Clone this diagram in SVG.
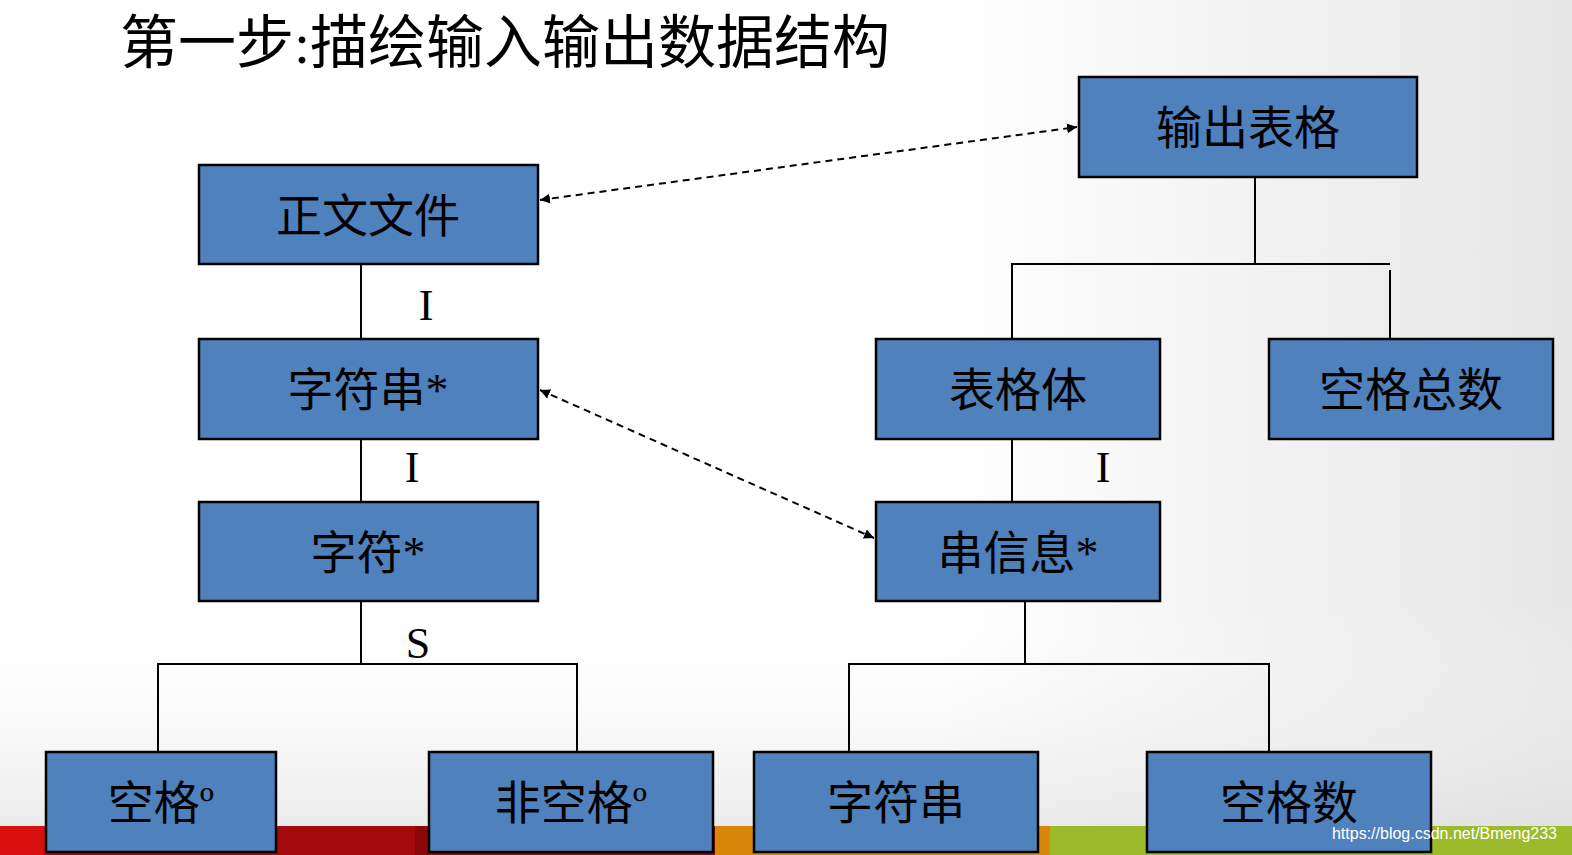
<svg xmlns="http://www.w3.org/2000/svg" width="1572" height="855" viewBox="0 0 1572 855">
<style>
.box{fill:#4f81bd;stroke:#000;stroke-width:2.5}
.t{font-family:"Liberation Serif","Noto Sans CJK SC",serif;font-size:46px;text-anchor:middle;fill:#000}
.l{font-family:"Liberation Serif",serif;font-size:44px;text-anchor:middle;fill:#000}
.c{stroke:#000;stroke-width:2;fill:none}
.d{stroke:#000;stroke-width:2;fill:none;stroke-dasharray:7,5}
</style>
<defs>
<linearGradient id="bg" x1="0" y1="0" x2="1" y2="0">
<stop offset="0.6" stop-color="#fff"/><stop offset="1" stop-color="#e6e6e6"/>
</linearGradient>
<linearGradient id="bg2" x1="0" y1="0" x2="0" y2="1">
<stop offset="0" stop-color="#fff" stop-opacity="0"/><stop offset="1" stop-color="#ddd" stop-opacity="0.6"/>
</linearGradient>
<marker id="a" viewBox="0 0 10 10" refX="10" refY="5" markerWidth="5" markerHeight="5" orient="auto-start-reverse"><path d="M0,0L10,5L0,10z" fill="#000"/></marker>
</defs>
<rect width="1572" height="855" fill="url(#bg)"/>
<rect y="600" width="1572" height="230" fill="url(#bg2)"/>
<rect x="0" y="826" width="45" height="29" fill="#d81010"/>
<rect x="45" y="826" width="370" height="29" fill="#a50a0a"/>
<rect x="415" y="826" width="300" height="29" fill="#8a0808"/>
<rect x="715" y="826" width="335" height="29" fill="#d8870a"/>
<rect x="1050" y="826" width="522" height="29" fill="#9cba2a"/>
<text x="120" y="63" font-family="Liberation Serif,Noto Sans CJK SC,serif" font-size="58" fill="#000">第一步:描绘输入输出数据结构</text>
<g id="connectors">
<path class="c" d="M361,264V339M361,439V502M361,601V664M158,752V664H577V752"/>
<path class="c" d="M1255,177V264M1012,339V264H1390M1390,270V339M1012,439V502M1025,601V664M849,752V664H1269V752"/>
<line class="d" x1="540" y1="200" x2="1077" y2="127" marker-start="url(#a)" marker-end="url(#a)"/>
<line class="d" x1="540" y1="390" x2="874" y2="538" marker-start="url(#a)" marker-end="url(#a)"/>
<text class="l" x="426" y="320">I</text>
<text class="l" x="412" y="482">I</text>
<text class="l" x="1103" y="482">I</text>
<text class="l" x="418" y="658">S</text>
</g>
<g id="n1"><rect class="box" x="1079" y="77" width="338" height="100"/><text class="t" x="1248" y="144">输出表格</text></g>
<g id="n2"><rect class="box" x="199" y="165" width="339" height="99"/><text class="t" x="368" y="232">正文文件</text></g>
<g id="n3"><rect class="box" x="199" y="339" width="339" height="100"/><text class="t" x="368" y="406">字符串*</text></g>
<g id="n4"><rect class="box" x="199" y="502" width="339" height="99"/><text class="t" x="368" y="569">字符*</text></g>
<g id="n5"><rect class="box" x="876" y="339" width="284" height="100"/><text class="t" x="1018" y="406">表格体</text></g>
<g id="n6"><rect class="box" x="1269" y="339" width="284" height="100"/><text class="t" x="1411" y="406">空格总数</text></g>
<g id="n7"><rect class="box" x="876" y="502" width="284" height="99"/><text class="t" x="1018" y="569">串信息*</text></g>
<g id="n8"><rect class="box" x="46" y="752" width="230" height="100"/><text class="t" x="161" y="819">空格º</text></g>
<g id="n9"><rect class="box" x="429" y="752" width="284" height="100"/><text class="t" x="571" y="819">非空格º</text></g>
<g id="n10"><rect class="box" x="754" y="752" width="284" height="100"/><text class="t" x="896" y="819">字符串</text></g>
<g id="n11"><rect class="box" x="1147" y="752" width="284" height="100"/><text class="t" x="1289" y="819">空格数</text></g>
<text x="1557" y="839" font-family="Liberation Sans,sans-serif" font-size="16" fill="#fff" text-anchor="end">https://blog.csdn.net/Bmeng233</text>
</svg>
